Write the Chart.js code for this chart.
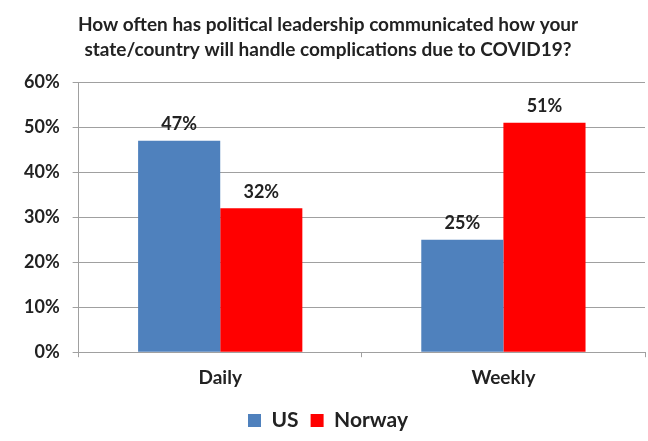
<!DOCTYPE html>
<html lang="en">
  <head>
    <meta charset="UTF-8" />
    <title>Political leadership communication</title>
    <script src="https://cdn.jsdelivr.net/npm/chart.js"></script>
    <style>
      html, body {
        margin: 0;
        padding: 0;
        background: #ffffff;
      }
      #chartContainer {
        width: 648px;
        height: 441px;
      }
    </style>
  </head>
  <body>
    <div id="chartContainer">
      <canvas id="commChart"></canvas>
    </div>

    <script>
      const categories = ["Daily", "Weekly"];
      const usValues = [47, 25];
      const norwayValues = [32, 51];
      const yTicks = [0, 10, 20, 30, 40, 50, 60];
      const titleLines = [
        "How often has political leadership communicated how your",
        "state/country will handle complications due to COVID19?",
      ];

      const FONT = "Lato, 'Liberation Sans', sans-serif";
      const TEXT_COLOR = "#222222";

      // writes the value above each bar
      const valueLabels = {
        id: "valueLabels",
        afterDatasetsDraw(chart) {
          const ctx = chart.ctx;
          ctx.save();
          ctx.font = "bold 18px " + FONT;
          ctx.fillStyle = TEXT_COLOR;
          ctx.textAlign = "center";
          ctx.textBaseline = "bottom";
          chart.data.datasets.forEach((ds, i) => {
            chart.getDatasetMeta(i).data.forEach((bar, j) => {
              ctx.fillText(ds.data[j] + "%", bar.x, bar.y - 7);
            });
          });
          ctx.restore();
        },
      };

      function createChart() {
        const ctx = document.getElementById("commChart").getContext("2d");
        new Chart(ctx, {
          type: "bar",
          data: {
            labels: categories,
            datasets: [
              {
                label: "US",
                data: usValues,
                backgroundColor: "#4f81bd",
                categoryPercentage: 0.58,
                barPercentage: 1.0,
              },
              {
                label: "Norway",
                data: norwayValues,
                backgroundColor: "#ff0000",
                categoryPercentage: 0.58,
                barPercentage: 1.0,
              },
            ],
          },
          options: {
            responsive: true,
            maintainAspectRatio: false,
            animation: false,
            layout: {
              padding: { left: 11, right: 3, top: 0, bottom: 0 },
            },
            scales: {
              x: {
                grid: {
                  drawOnChartArea: false,
                  tickLength: 5,
                  color: "#a0a0a0",
                },
                border: { color: "#a0a0a0" },
                ticks: {
                  color: TEXT_COLOR,
                  font: { family: FONT, size: 19, weight: "bold" },
                  padding: 9,
                },
              },
              y: {
                min: 0,
                max: 60,
                afterBuildTicks(axis) {
                  axis.ticks = yTicks.map((v) => ({ value: v }));
                },
                grid: {
                  color: "#a0a0a0",
                  tickLength: 6,
                },
                border: { color: "#a0a0a0" },
                ticks: {
                  color: TEXT_COLOR,
                  font: { family: FONT, size: 18, weight: "bold" },
                  padding: 13,
                  callback: (v) => v + "%",
                },
              },
            },
            plugins: {
              title: {
                display: true,
                text: titleLines,
                color: TEXT_COLOR,
                font: { family: FONT, size: 19, weight: "bold", lineHeight: 1.32 },
                padding: { top: 12, bottom: 20 },
              },
              legend: {
                position: "bottom",
                labels: {
                  color: TEXT_COLOR,
                  font: { family: FONT, size: 21, weight: "bold" },
                  boxWidth: 13,
                  boxHeight: 13,
                  padding: 12,
                },
              },
              tooltip: { enabled: false },
            },
          },
          plugins: [valueLabels],
        });
      }

      createChart();
    </script>
  </body>
</html>
